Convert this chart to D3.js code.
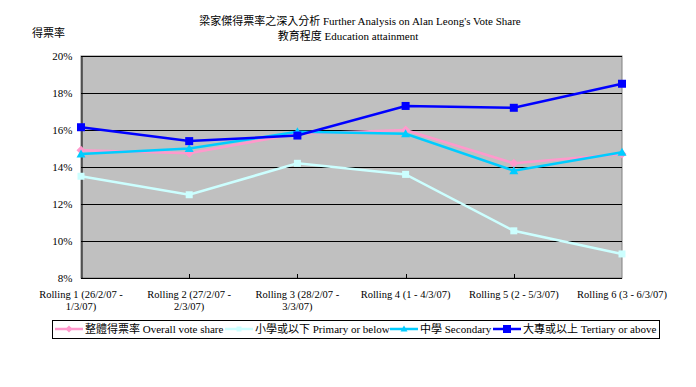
<!DOCTYPE html>
<html>
<head>
<meta charset="utf-8">
<script src="https://cdn.jsdelivr.net/npm/d3@7"></script>
<style>
    body { margin: 0; background: #fff; }
    svg text { font-family: "Liberation Serif", "Times New Roman", "Noto Sans CJK TC", serif; fill: #000; }
</style>
</head>
<body>
<svg id="chartSVG"></svg>
<script>
var categories = [
    ['Rolling 1 (26/2/07 -', '1/3/07)'],
    ['Rolling 2 (27/2/07 -', '2/3/07)'],
    ['Rolling 3 (28/2/07 -', '3/3/07)'],
    ['Rolling 4 (1 - 4/3/07)'],
    ['Rolling 5 (2 - 5/3/07)'],
    ['Rolling 6 (3 - 6/3/07)']
]
var overallValues = [0.149, 0.1475, 0.158, 0.160, 0.142, 0.147]
var primaryValues = [0.135, 0.125, 0.142, 0.136, 0.1055, 0.093]
var secondaryValues = [0.147, 0.150, 0.159, 0.158, 0.138, 0.148]
var tertiaryValues = [0.1615, 0.154, 0.157, 0.173, 0.172, 0.185]
var yTicks = [0.08, 0.10, 0.12, 0.14, 0.16, 0.18, 0.20]

var seriesNames = ['整體得票率 Overall vote share', '小學或以下 Primary or below', '中學 Secondary', '大專或以上 Tertiary or above']
var seriesColors = ['#FF99CC', '#CCFFFF', '#00CCFF', '#0000FF']
var seriesMarkers = ['diamond', 'square', 'triangle', 'square']
var seriesData = [overallValues, primaryValues, secondaryValues, tertiaryValues]

var width = 696, height = 387
var plot = {left: 81, right: 622, top: 56, bottom: 278}

var svg = d3.select('#chartSVG').attr('width', width).attr('height', height)

var xScale = d3.scalePoint()
    .domain(d3.range(categories.length))
    .range([plot.left, plot.right])
var yScale = d3.scaleLinear().domain([0.08, 0.20]).range([plot.bottom, plot.top])

// plot background
svg.append('rect')
    .attr('x', plot.left).attr('y', plot.top)
    .attr('width', plot.right - plot.left).attr('height', plot.bottom - plot.top)
    .style('fill', '#C0C0C0')
    .style('stroke', '#808080')

// gridlines
svg.append('g').selectAll('line')
    .data(yTicks.slice(1))
    .enter().append('line')
    .attr('x1', plot.left).attr('x2', plot.right)
    .attr('y1', function (d) { return Math.round(yScale(d)) + 0.5 })
    .attr('y2', function (d) { return Math.round(yScale(d)) + 0.5 })
    .style('stroke', '#000')

// axes
var yAxis = d3.axisLeft(yScale).tickValues(yTicks).tickFormat(d3.format('.0%')).tickSize(0).tickPadding(9)
var yG = svg.append('g').attr('transform', 'translate(' + (plot.left + 0.5) + ',0)').call(yAxis)
yG.attr('font-family', null)
yG.select('.domain').style('stroke', '#000')
yG.selectAll('text').style('font-size', '11px')

svg.append('line')
    .attr('x1', plot.left).attr('x2', plot.right)
    .attr('y1', plot.bottom + 0.5).attr('y2', plot.bottom + 0.5)
    .style('stroke', '#000')

svg.append('g').selectAll('line')
    .data(d3.range(1, categories.length - 1))
    .enter().append('line')
    .attr('x1', function (d) { return Math.round(xScale(d)) + 0.5 })
    .attr('x2', function (d) { return Math.round(xScale(d)) + 0.5 })
    .attr('y1', plot.bottom).attr('y2', plot.bottom - 4)
    .style('stroke', '#000')

// category labels
var catG = svg.append('g').selectAll('text')
    .data(categories)
    .enter().append('text')
    .attr('text-anchor', 'middle')
    .style('font-size', '10.5px')
catG.selectAll('tspan')
    .data(function (d, i) { return d.map(function (t) { return {t: t, i: i} }) })
    .enter().append('tspan')
    .attr('x', function (d) { return xScale(d.i) })
    .attr('y', function (d, j) { return 298 + j * 12 })
    .text(function (d) { return d.t })

// markers
function markerPath(type, size) {
    var s = size / 2
    if (type === 'diamond') return 'M0,' + (-s - 1) + 'L' + (s + 1) + ',0L0,' + (s + 1) + 'L' + (-s - 1) + ',0Z'
    if (type === 'triangle') return 'M0,' + (-s - 1) + 'L' + (s + 1) + ',' + s + 'L' + (-s - 1) + ',' + s + 'Z'
    return 'M' + (-s) + ',' + (-s) + 'h' + size + 'v' + size + 'h' + (-size) + 'Z'
}
var markerSizes = [7, 7, 7, 8]

var line = d3.line()
    .x(function (d, i) { return xScale(i) })
    .y(function (d) { return yScale(d) })

seriesData.forEach(function (values, k) {
    var g = svg.append('g')
    g.append('path')
        .attr('d', line(values))
        .style('fill', 'none')
        .style('stroke', seriesColors[k])
        .style('stroke-width', 2.5)
    g.selectAll('path.marker')
        .data(values)
        .enter().append('path')
        .attr('class', 'marker')
        .attr('transform', function (d, i) { return 'translate(' + xScale(i) + ',' + yScale(d) + ')' })
        .attr('d', markerPath(seriesMarkers[k], markerSizes[k]))
        .style('fill', seriesColors[k])
})

// titles
svg.append('text').attr('x', 360).attr('y', 25).attr('text-anchor', 'middle').style('font-size', '11px')
    .text("梁家傑得票率之深入分析 Further Analysis on Alan Leong's Vote Share")
svg.append('text').attr('x', 348).attr('y', 40).attr('text-anchor', 'middle').style('font-size', '11px')
    .text('教育程度 Education attainment')
svg.append('text').attr('x', 32).attr('y', 37).style('font-size', '11px').text('得票率')

// legend
svg.append('rect')
    .attr('x', 52.5).attr('y', 320.5).attr('width', 607).attr('height', 18)
    .style('fill', '#fff').style('stroke', '#000')
var legendX = [55, 225, 390, 493]
seriesNames.forEach(function (name, k) {
    var g = svg.append('g').attr('transform', 'translate(' + legendX[k] + ',329)')
    g.append('line').attr('x1', 0).attr('x2', 28).attr('y1', 0).attr('y2', 0)
        .style('stroke', seriesColors[k]).style('stroke-width', 2.5)
    g.append('path').attr('transform', 'translate(14,0)')
        .attr('d', markerPath(seriesMarkers[k], k === 3 ? 8 : 5))
        .style('fill', seriesColors[k])
    g.append('text').attr('x', 30).attr('y', 4).style('font-size', '11px').text(name)
})
</script>
</body>
</html>
